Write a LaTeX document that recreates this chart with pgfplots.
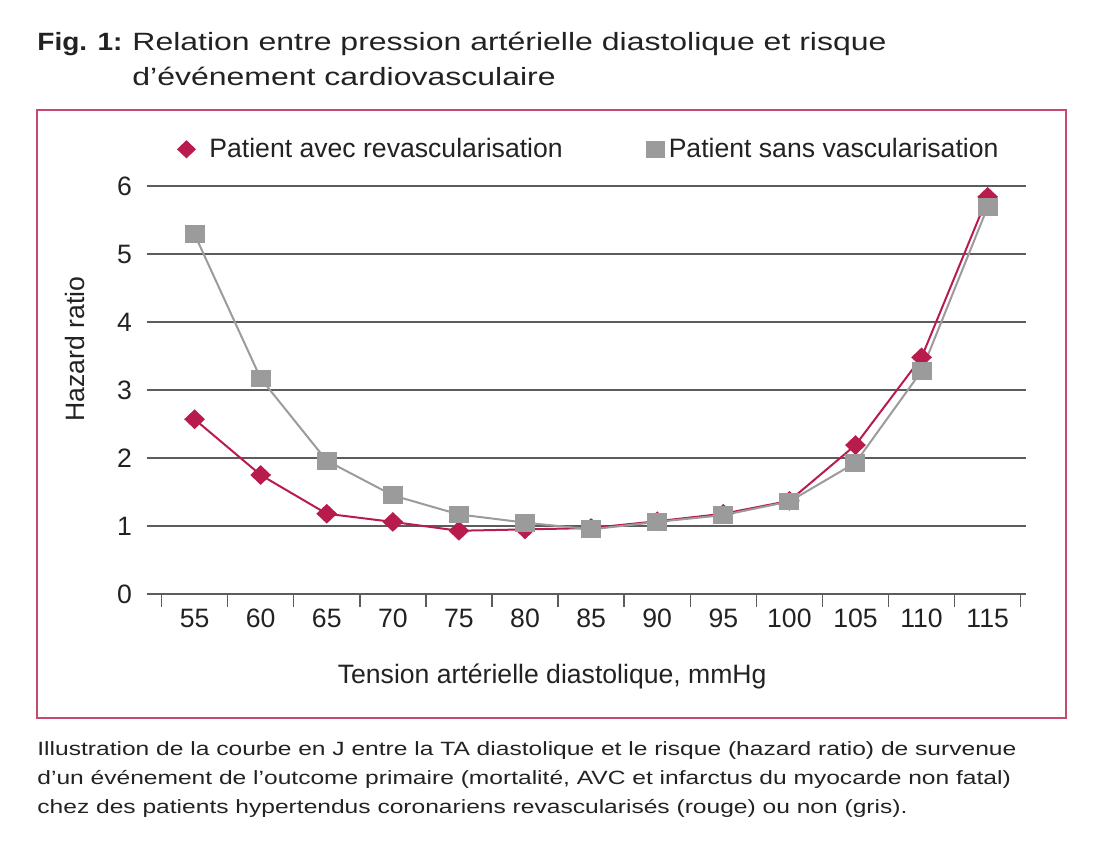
\documentclass[border=0pt]{standalone}
\usepackage{pgfplots}
\pgfplotsset{compat=1.18}
\usepackage{fontspec}
\setmainfont{Liberation Sans}
\newfontfamily\titlefont[FakeStretch=1.28]{Liberation Sans}
\newfontfamily\figfont[FakeStretch=1.12]{Liberation Sans}
\newfontfamily\capfont[FakeStretch=1.28]{Liberation Sans}
\definecolor{crim}{HTML}{B81C4D}
\definecolor{grayp}{HTML}{9B9B9B}
\definecolor{framec}{HTML}{C64A6E}
\definecolor{gridc}{HTML}{5C5C5C}
\definecolor{txt}{HTML}{222222}
\begin{document}
\begin{tikzpicture}
\useasboundingbox (0,0) rectangle (550pt,423.5pt);
\begin{scope}[x=0.5pt,y=-0.5pt,yshift=423.5pt]
\draw[framec, line width=0.9pt] (37,110) rectangle (1066,718);
\node[anchor=base west, inner sep=0, text=txt, font=\figfont\bfseries\fontsize{12.5}{15}\selectfont] at (37,51) {Fig. 1:};
\node[anchor=base west, inner sep=0, text=txt, font=\titlefont\fontsize{12.5}{15}\selectfont] at (132,51) {Relation entre pression artérielle diastolique et risque};
\node[anchor=base west, inner sep=0, text=txt, font=\titlefont\fontsize{12.5}{15}\selectfont] at (132,86) {d’événement cardiovasculaire};
\node[anchor=base west, inner sep=0, text=txt, font=\capfont\fontsize{9.6}{12}\selectfont] at (37,756) {Illustration de la courbe en J entre la TA diastolique et le risque (hazard ratio) de survenue};
\node[anchor=base west, inner sep=0, text=txt, font=\capfont\fontsize{9.6}{12}\selectfont] at (37,785) {d’un événement de l’outcome primaire (mortalité, AVC et infarctus du myocarde non fatal)};
\node[anchor=base west, inner sep=0, text=txt, font=\capfont\fontsize{9.6}{12}\selectfont] at (37,814) {chez des patients hypertendus coronariens revascularisés (rouge) ou non (gris).};
\end{scope}
\begin{axis}[
  at={(73.5pt,126.5pt)}, anchor=south west,
  scale only axis, width=439.5pt, height=204pt,
  xmin=-0.72, xmax=12.58, ymin=0, ymax=6,
  axis line style={draw=none},
  xtick pos=bottom, ytick pos=left,
  tick align=outside,
  xtick={0,...,12},
  xticklabels={55,60,65,70,75,80,85,90,95,100,105,110,115},
  major tick length=0pt,
  minor xtick={-0.5,0.5,...,12.5},
  minor tick length=6.5pt,
  minor tick style={gridc, line width=0.75pt},
  ytick={0,...,6},
  ymajorgrids, grid style={gridc, line width=0.75pt},
  tick label style={font=\fontsize{13.3}{16}\selectfont, text=txt},
  xticklabel style={yshift=-4pt},
  yticklabel style={xshift=-4pt},
  /pgf/number format/assume math mode=true,
  xlabel={Tension artérielle diastolique, mmHg},
  ylabel={Hazard ratio},
  label style={font=\fontsize{13.3}{16}\selectfont, text=txt},
  xlabel style={at={(rel axis cs:0.461,-0.203)}, anchor=center},
  ylabel style={at={(rel axis cs:-0.082,0.60)}, anchor=center},
  legend style={draw=none, fill=none, at={(rel axis cs:0.504,1.09)}, anchor=center,
    font=\fontsize{13.3}{16}\selectfont, text=txt,
    /tikz/every even column/.append style={column sep=40pt}},
  legend columns=2,
  clip=false,
]
\addlegendimage{only marks, mark=diamond*, mark size=4.25pt, mark options={xscale=1.4, fill=crim, draw=crim}}
\addlegendentry{\hspace{5pt}Patient avec revascularisation}
\addlegendimage{only marks, mark=square*, mark size=4.5pt, mark options={yscale=0.88, fill=grayp, draw=grayp}}
\addlegendentry{Patient sans vascularisation}
\addplot[crim, line width=1pt, mark=diamond*, mark size=4.25pt, mark options={xscale=1.4, fill=crim, draw=crim}, forget plot] coordinates {
(0,2.57)(1,1.75)(2,1.18)(3,1.06)(4,0.93)(5,0.95)(6,0.97)(7,1.07)(8,1.18)(9,1.37)(10,2.19)(11,3.48)(12,5.84)};
\addplot[grayp, line width=1pt, mark=square*, mark size=4.5pt, mark options={yscale=0.88, fill=grayp, draw=grayp}, forget plot] coordinates {
(0,5.29)(1,3.17)(2,1.96)(3,1.45)(4,1.17)(5,1.05)(6,0.95)(7,1.06)(8,1.16)(9,1.36)(10,1.93)(11,3.28)(12,5.69)};
\end{axis}
\end{tikzpicture}
\end{document}
